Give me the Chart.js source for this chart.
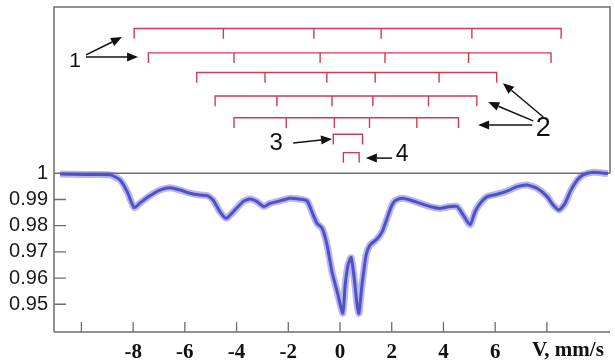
<!DOCTYPE html>
<html>
<head>
<meta charset="utf-8">
<script src="https://cdn.jsdelivr.net/npm/chart.js@4.4.1/dist/chart.umd.min.js"></script>
<style>
  html, body { margin: 0; padding: 0; background: #fff; }
  #wrap { width: 615px; height: 362px; }
</style>
</head>
<body>
<div id="wrap"><canvas id="chart" width="615" height="362"></canvas></div>
<script>
// Mössbauer spectrum (velocity in mm/s, relative transmission)
const velocity = [
  -10.82, -9.86, -8.89, -8.50, -8.23, -7.96, -7.73, -7.34, -6.96, -6.57,
  -6.18, -5.80, -5.41, -5.14, -4.91, -4.64, -4.40, -4.13, -3.75, -3.48,
  -3.21, -2.94, -2.71, -2.20, -1.93, -1.54, -1.27, -1.04, -0.89, -0.69,
  -0.50, -0.31, -0.11, 0.11, 0.20, 0.31, 0.43, 0.55, 0.66, 0.73,
  0.85, 1.01, 1.16, 1.43, 1.63, 1.82, 2.01, 2.17, 2.44, 2.71,
  3.10, 3.48, 3.87, 4.26, 4.53, 4.76, 5.03, 5.22, 5.42, 5.69,
  6.07, 6.46, 6.85, 7.23, 7.62, 8.01, 8.24, 8.47, 8.70, 8.90,
  9.17, 9.40, 9.79, 10.36
]
const transmission = [
  0.9997, 0.9995, 0.9994, 0.9974, 0.9930, 0.9869, 0.9887, 0.9915, 0.9936, 0.9945,
  0.9936, 0.9924, 0.9917, 0.9915, 0.9898, 0.9853, 0.9828, 0.9853, 0.9892, 0.9902,
  0.9892, 0.9873, 0.9885, 0.9898, 0.9905, 0.9901, 0.9894, 0.9841, 0.9809, 0.9790,
  0.9726, 0.9624, 0.9548, 0.9466, 0.9574, 0.9650, 0.9678, 0.9599, 0.9497, 0.9465,
  0.9574, 0.9688, 0.9726, 0.9749, 0.9777, 0.9828, 0.9879, 0.9898, 0.9905, 0.9898,
  0.9885, 0.9873, 0.9866, 0.9873, 0.9873, 0.9841, 0.9803, 0.9853, 0.9885, 0.9911,
  0.9920, 0.9932, 0.9949, 0.9955, 0.9943, 0.9911, 0.9879, 0.9860, 0.9885, 0.9930,
  0.9974, 0.9994, 1.0004, 0.9999
]

// line positions of the subspectra (stick diagrams)
const sextet1a = [-7.96, -4.51, -1.01, 1.59, 5.10, 8.55]
const sextet1b = [-7.41, -4.10, -0.77, 1.74, 4.97, 8.16]
const sextet2a = [-5.54, -2.90, -0.51, 1.36, 3.83, 6.06]
const sextet2b = [-4.83, -2.44, -0.31, 1.27, 3.42, 5.29]
const sextet2c = [-4.10, -2.08, -0.22, 1.14, 2.97, 4.58]
const doublet3 = [-0.26, 0.87]
const doublet4 = [0.13, 0.74]
const stickLevels = [1.0553, 1.0460, 1.0385, 1.0295, 1.0212, 1.0149, 1.0079]

const xTickValues = [-10, -8, -6, -4, -2, 0, 2, 4, 6, 8]
const xTickLabels = ["", "-8", "-6", "-4", "-2", "0", "2", "4", "6", ""]
const yTickValues = [0.95, 0.96, 0.97, 0.98, 0.99, 1]
const yTickLabels = ["0.95", "0.96", "0.97", "0.98", "0.99", "1"]
const axisTitle = "V, mm/s"

const RED = "#d23a52"
const FRAME = "#6e6e6e"
const STICK_DEPTH = 0.0039

function stickPoints(lines, level) {
  const pts = []
  lines.forEach((p, i) => {
    if (i > 0) pts.push({ x: p, y: level })
    pts.push({ x: p, y: level - STICK_DEPTH })
    if (i < lines.length - 1) pts.push({ x: p, y: level })
  })
  return pts
}

const spectrum = velocity.map((v, i) => ({ x: v, y: transmission[i] }))

const stickSets = [sextet1a, sextet1b, sextet2a, sextet2b, sextet2c, doublet3, doublet4]
  .map((lines, i) => ({
    data: stickPoints(lines, stickLevels[i]),
    borderColor: RED,
    borderWidth: 1.4,
    pointRadius: 0,
    tension: 0
  }))

// numbered callouts with arrows, in data coordinates
const callouts = [
  { text: "1", at: [-10.24, 1.0429], size: 21,
    arrows: [[[-9.82, 1.0452], [-8.43, 1.0520]], [[-9.82, 1.0444], [-7.81, 1.0444]]] },
  { text: "2", at: [7.86, 1.0170], size: 27,
    arrows: [[[7.86, 1.0215], [6.30, 1.0344]], [[7.47, 1.0200], [5.73, 1.0272]], [[7.43, 1.0184], [5.34, 1.0184]]] },
  { text: "3", at: [-2.47, 1.0116], size: 24,
    arrows: [[[-1.81, 1.0116], [-0.31, 1.0131]]] },
  { text: "4", at: [2.40, 1.0070], size: 23,
    arrows: [[[2.01, 1.0058], [1.00, 1.0058]]] }
]

const framePlugin = {
  id: "frame",
  beforeDatasetsDraw(chart) {
    const { ctx, chartArea: a, scales: { x, y } } = chart
    const y1 = y.getPixelForValue(1)
    ctx.save()
    ctx.strokeStyle = FRAME
    ctx.lineWidth = 1.5
    ctx.beginPath()
    ctx.moveTo(a.left, a.bottom)
    ctx.lineTo(a.left, a.top)
    ctx.lineTo(a.right, a.top)
    ctx.lineTo(a.right, y1)
    ctx.moveTo(a.left, y1)
    ctx.lineTo(a.right, y1)
    ctx.moveTo(a.left, a.bottom)
    ctx.lineTo(a.right, a.bottom)
    ctx.stroke()
    // inward tick marks
    ctx.lineWidth = 1.3
    ctx.beginPath()
    x.ticks.forEach(t => {
      const px = x.getPixelForValue(t.value)
      ctx.moveTo(px, a.bottom)
      ctx.lineTo(px, a.bottom - 10)
    })
    y.ticks.forEach(t => {
      if (t.value >= 1) return
      const py = y.getPixelForValue(t.value)
      ctx.moveTo(a.left, py)
      ctx.lineTo(a.left + 12, py)
    })
    ctx.stroke()
    ctx.restore()
  },
  afterDraw(chart) {
    const { ctx, scales: { x, y } } = chart
    ctx.save()
    // axis title in place of the "8" label
    ctx.fillStyle = "#111"
    ctx.font = "bold 21px 'Liberation Serif', serif"
    ctx.textAlign = "left"
    ctx.textBaseline = "middle"
    ctx.fillText(axisTitle, x.getPixelForValue(8) - 15, 351)

    ctx.strokeStyle = "#111"
    ctx.fillStyle = "#111"
    ctx.lineWidth = 1.5
    callouts.forEach(c => {
      ctx.font = c.size + "px 'Liberation Sans', Arial, sans-serif"
      ctx.textAlign = "center"
      ctx.textBaseline = "middle"
      ctx.fillText(c.text, x.getPixelForValue(c.at[0]), y.getPixelForValue(c.at[1]))
      c.arrows.forEach(([from, to]) => {
        const x0 = x.getPixelForValue(from[0]), y0 = y.getPixelForValue(from[1])
        const x1 = x.getPixelForValue(to[0]), y1 = y.getPixelForValue(to[1])
        const ang = Math.atan2(y1 - y0, x1 - x0)
        const len = 11, half = 4.5
        const bx = x1 - len * Math.cos(ang), by = y1 - len * Math.sin(ang)
        ctx.beginPath()
        ctx.moveTo(x0, y0)
        ctx.lineTo(bx, by)
        ctx.stroke()
        ctx.beginPath()
        ctx.moveTo(x1, y1)
        ctx.lineTo(bx + half * Math.sin(ang), by - half * Math.cos(ang))
        ctx.lineTo(bx - half * Math.sin(ang), by + half * Math.cos(ang))
        ctx.closePath()
        ctx.fill()
      })
    })
    ctx.restore()
  }
}

new Chart(document.getElementById("chart"), {
  type: "line",
  data: {
    datasets: [
      {
        data: spectrum,
        borderColor: "rgba(95, 95, 215, 0.45)",
        borderWidth: 7,
        pointRadius: 0,
        tension: 0.2
      },
      {
        data: spectrum,
        borderColor: "#4444bb",
        borderWidth: 3,
        pointRadius: 0,
        tension: 0.2
      },
      {
        data: spectrum,
        borderColor: "#2a2a2a",
        borderWidth: 1,
        pointRadius: 0,
        tension: 0.2
      },
      ...stickSets
    ]
  },
  options: {
    responsive: false,
    animation: false,
    layout: { padding: { top: 7, right: 5, left: 0, bottom: 0 } },
    plugins: {
      legend: { display: false },
      tooltip: { enabled: false }
    },
    scales: {
      x: {
        type: "linear",
        min: -11.06,
        max: 10.44,
        afterBuildTicks: (scale) => { scale.ticks = xTickValues.map(v => ({ value: v })) },
        afterFit: (scale) => {
          scale.height = 30
          scale.paddingLeft = 0
          scale.paddingRight = 0
        },
        grid: { display: false, drawTicks: false },
        border: { display: false },
        ticks: {
          autoSkip: false,
          maxRotation: 0,
          padding: 8,
          color: "#111",
          font: { family: "'Liberation Serif', serif", size: 21, weight: "bold" },
          callback: (v, i) => xTickLabels[i]
        }
      },
      y: {
        type: "linear",
        min: 0.9394,
        max: 1.0635,
        afterBuildTicks: (scale) => { scale.ticks = yTickValues.map(v => ({ value: v })) },
        afterFit: (scale) => {
          scale.width = 54
          scale.paddingTop = 0
          scale.paddingBottom = 0
        },
        grid: { display: false, drawTicks: false },
        border: { display: false },
        ticks: {
          autoSkip: false,
          padding: 6,
          color: "#1a1a1a",
          font: { family: "'Liberation Sans', Arial, sans-serif", size: 20 },
          callback: (v, i) => yTickLabels[i]
        }
      }
    }
  },
  plugins: [framePlugin]
})
</script>
</body>
</html>
